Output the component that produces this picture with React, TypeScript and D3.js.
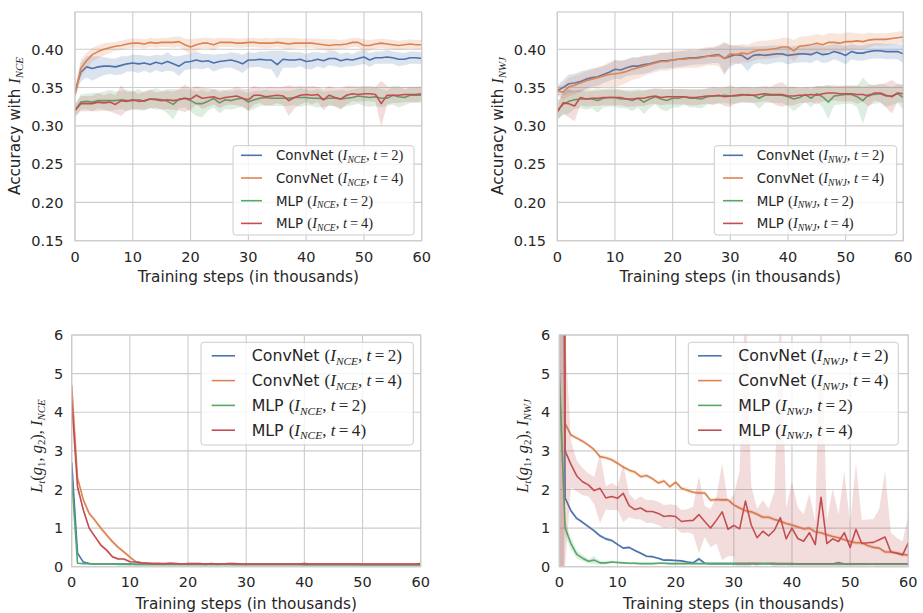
import React from 'react';
import { scaleLinear, line, area, format, range } from 'd3';

// training steps in thousands, one point per 1k steps
const steps = range(0, 61);

const xTicks = [0, 10, 20, 30, 40, 50, 60];
const accTicks = [0.15, 0.2, 0.25, 0.3, 0.35, 0.4];
const lossTicks = [0, 1, 2, 3, 4, 5, 6];

const models = ['ConvNet', 'ConvNet', 'MLP', 'MLP'];
const temps = [2, 4, 2, 4];
const colors = ['#4c72b0', '#dd8452', '#55a868', '#c44e52'];

// ---- accuracy, I_NCE ----
const accNceConv2 = [0.345,0.370,0.377,0.375,0.377,0.378,0.378,0.377,0.379,0.381,
  0.382,0.381,0.382,0.380,0.383,0.381,0.384,0.381,0.378,0.383,
  0.384,0.386,0.384,0.385,0.382,0.384,0.385,0.386,0.384,0.381,
  0.386,0.386,0.387,0.386,0.386,0.380,0.387,0.386,0.386,0.387,
  0.384,0.385,0.387,0.385,0.388,0.388,0.385,0.387,0.386,0.388,
  0.390,0.386,0.389,0.389,0.390,0.389,0.387,0.387,0.389,0.389,0.388];
const accNceConv4 = [0.340,0.375,0.385,0.393,0.397,0.400,0.402,0.404,0.405,0.407,
  0.408,0.408,0.407,0.409,0.408,0.409,0.409,0.409,0.410,0.406,
  0.403,0.406,0.408,0.408,0.406,0.409,0.409,0.409,0.408,0.408,
  0.409,0.409,0.408,0.408,0.408,0.409,0.408,0.407,0.408,0.408,
  0.408,0.408,0.407,0.406,0.405,0.406,0.406,0.407,0.409,0.409,
  0.405,0.405,0.407,0.408,0.407,0.406,0.405,0.406,0.407,0.406,0.406];
const accNceMlp2 = [0.320,0.331,0.332,0.331,0.333,0.333,0.333,0.333,0.334,0.333,
  0.333,0.334,0.332,0.335,0.335,0.334,0.332,0.328,0.335,0.336,
  0.333,0.329,0.329,0.332,0.336,0.330,0.334,0.333,0.335,0.336,
  0.331,0.334,0.336,0.337,0.336,0.336,0.336,0.336,0.337,0.337,
  0.337,0.336,0.336,0.335,0.336,0.336,0.335,0.336,0.337,0.339,
  0.338,0.337,0.338,0.336,0.336,0.340,0.338,0.337,0.340,0.340,0.340];
const accNceMlp4 = [0.320,0.329,0.329,0.329,0.331,0.330,0.331,0.328,0.333,0.332,
  0.334,0.332,0.333,0.335,0.334,0.333,0.334,0.333,0.334,0.336,
  0.335,0.340,0.336,0.337,0.338,0.335,0.337,0.338,0.339,0.336,
  0.334,0.340,0.340,0.338,0.339,0.340,0.339,0.333,0.337,0.340,
  0.341,0.340,0.341,0.334,0.340,0.337,0.335,0.340,0.342,0.341,
  0.342,0.342,0.341,0.329,0.340,0.340,0.340,0.341,0.341,0.341,0.342];
const sdNceConv2 = [0.006,0.012,0.014,0.016,0.014,0.012,0.010,0.011,0.012,0.010,
  0.011,0.012,0.010,0.011,0.010,0.011,0.012,0.010,0.013,0.010,
  0.010,0.011,0.010,0.009,0.011,0.010,0.009,0.010,0.011,0.012,
  0.010,0.009,0.010,0.011,0.012,0.018,0.011,0.010,0.010,0.009,
  0.010,0.011,0.009,0.010,0.009,0.010,0.009,0.009,0.008,0.009,
  0.009,0.009,0.008,0.008,0.009,0.008,0.009,0.008,0.008,0.008,0.008];
const sdNceConv4 = [0.006,0.012,0.010,0.009,0.008,0.008,0.007,0.006,0.006,0.006,
  0.006,0.006,0.006,0.006,0.006,0.006,0.006,0.007,0.007,0.008,
  0.010,0.008,0.007,0.007,0.008,0.006,0.006,0.006,0.006,0.006,
  0.006,0.006,0.006,0.007,0.006,0.006,0.007,0.008,0.007,0.006,
  0.006,0.006,0.007,0.007,0.008,0.007,0.006,0.006,0.006,0.006,
  0.008,0.007,0.006,0.006,0.006,0.006,0.006,0.006,0.006,0.006,0.006];
const sdNceMlp2 = [0.008,0.010,0.010,0.012,0.010,0.012,0.014,0.012,0.012,0.014,
  0.012,0.014,0.012,0.012,0.014,0.012,0.016,0.020,0.012,0.012,
  0.014,0.016,0.018,0.012,0.012,0.014,0.012,0.012,0.012,0.010,
  0.012,0.012,0.010,0.010,0.010,0.010,0.010,0.010,0.010,0.012,
  0.010,0.010,0.012,0.010,0.010,0.010,0.012,0.010,0.010,0.010,
  0.012,0.012,0.012,0.012,0.010,0.012,0.014,0.010,0.010,0.010,0.010];
const sdNceMlp4 = [0.008,0.010,0.010,0.010,0.012,0.010,0.012,0.012,0.020,0.012,
  0.012,0.010,0.012,0.012,0.010,0.012,0.012,0.012,0.014,0.018,
  0.014,0.012,0.014,0.012,0.010,0.012,0.010,0.010,0.012,0.012,
  0.014,0.012,0.010,0.012,0.012,0.010,0.012,0.020,0.014,0.012,
  0.010,0.012,0.010,0.014,0.012,0.012,0.014,0.012,0.010,0.010,
  0.010,0.010,0.010,0.030,0.012,0.010,0.010,0.010,0.010,0.010,0.010];

// ---- accuracy, I_NWJ ----
const accNwjConv2 = [0.346,0.350,0.355,0.356,0.358,0.361,0.363,0.364,0.367,0.370,
  0.374,0.373,0.376,0.378,0.378,0.380,0.381,0.383,0.385,0.385,
  0.386,0.387,0.388,0.389,0.389,0.390,0.391,0.392,0.393,0.388,
  0.391,0.393,0.392,0.387,0.392,0.393,0.392,0.393,0.394,0.394,
  0.392,0.393,0.394,0.394,0.393,0.396,0.393,0.394,0.397,0.395,
  0.392,0.397,0.395,0.395,0.397,0.398,0.398,0.397,0.397,0.397,0.394];
const accNwjConv4 = [0.346,0.344,0.351,0.353,0.356,0.359,0.361,0.363,0.365,0.367,
  0.368,0.369,0.371,0.374,0.376,0.378,0.380,0.382,0.384,0.384,
  0.386,0.387,0.387,0.388,0.388,0.389,0.391,0.391,0.392,0.388,
  0.394,0.393,0.395,0.394,0.397,0.399,0.399,0.400,0.401,0.403,
  0.403,0.398,0.404,0.405,0.406,0.408,0.406,0.409,0.409,0.408,
  0.410,0.410,0.411,0.410,0.412,0.413,0.413,0.413,0.414,0.415,0.416];
const accNwjMlp2 = [0.320,0.328,0.332,0.334,0.335,0.335,0.335,0.333,0.336,0.337,
  0.337,0.335,0.335,0.333,0.336,0.331,0.335,0.338,0.335,0.333,
  0.336,0.336,0.338,0.336,0.336,0.335,0.338,0.339,0.339,0.340,
  0.339,0.339,0.340,0.341,0.340,0.336,0.340,0.340,0.340,0.340,
  0.338,0.335,0.337,0.341,0.336,0.342,0.338,0.331,0.339,0.340,
  0.341,0.341,0.338,0.333,0.341,0.341,0.342,0.339,0.339,0.342,0.337];
const accNwjMlp4 = [0.318,0.330,0.329,0.326,0.337,0.335,0.336,0.336,0.337,0.337,
  0.337,0.337,0.335,0.335,0.336,0.336,0.338,0.339,0.337,0.338,
  0.338,0.338,0.338,0.337,0.337,0.338,0.339,0.339,0.340,0.338,
  0.339,0.340,0.341,0.340,0.340,0.341,0.342,0.341,0.341,0.341,
  0.339,0.339,0.340,0.340,0.341,0.340,0.342,0.343,0.343,0.342,
  0.342,0.342,0.341,0.341,0.339,0.343,0.343,0.340,0.338,0.343,0.342];
const sdNwjConv2 = [0.006,0.010,0.012,0.012,0.013,0.012,0.012,0.012,0.011,0.011,
  0.012,0.012,0.011,0.012,0.011,0.012,0.011,0.010,0.010,0.010,
  0.010,0.010,0.010,0.010,0.009,0.010,0.010,0.010,0.011,0.020,
  0.014,0.012,0.012,0.016,0.012,0.011,0.012,0.012,0.011,0.011,
  0.012,0.011,0.011,0.011,0.011,0.010,0.011,0.011,0.010,0.011,
  0.012,0.010,0.010,0.010,0.010,0.010,0.010,0.010,0.010,0.010,0.012];
const sdNwjConv4 = [0.006,0.010,0.012,0.012,0.012,0.012,0.012,0.014,0.014,0.016,
  0.018,0.016,0.015,0.014,0.014,0.013,0.012,0.012,0.012,0.012,
  0.012,0.012,0.012,0.012,0.012,0.012,0.012,0.012,0.014,0.022,
  0.012,0.012,0.012,0.012,0.012,0.012,0.012,0.012,0.012,0.012,
  0.012,0.014,0.012,0.012,0.012,0.012,0.012,0.012,0.012,0.012,
  0.012,0.012,0.010,0.010,0.010,0.008,0.008,0.008,0.008,0.008,0.008];
const sdNwjMlp2 = [0.012,0.014,0.016,0.012,0.012,0.014,0.012,0.016,0.012,0.012,
  0.012,0.012,0.012,0.014,0.012,0.016,0.012,0.010,0.014,0.014,
  0.012,0.012,0.010,0.012,0.012,0.012,0.010,0.010,0.010,0.010,
  0.010,0.010,0.010,0.010,0.010,0.014,0.010,0.010,0.010,0.010,
  0.012,0.016,0.012,0.010,0.012,0.010,0.014,0.022,0.012,0.012,
  0.012,0.012,0.014,0.030,0.014,0.012,0.012,0.014,0.012,0.012,0.016];
const sdNwjMlp4 = [0.010,0.014,0.018,0.020,0.010,0.010,0.010,0.010,0.010,0.010,
  0.010,0.010,0.010,0.010,0.010,0.010,0.010,0.010,0.010,0.010,
  0.010,0.010,0.010,0.010,0.010,0.010,0.010,0.012,0.010,0.012,
  0.014,0.010,0.010,0.010,0.010,0.010,0.010,0.010,0.014,0.016,
  0.012,0.012,0.010,0.010,0.010,0.012,0.010,0.010,0.010,0.010,
  0.010,0.010,0.012,0.010,0.014,0.010,0.012,0.016,0.022,0.012,0.012];

// ---- loss L_t, I_NCE ----
const lossNceConv2 = [2.70,0.35,0.12,0.08,0.07,0.07,0.07,0.07,0.07,0.07,
  0.07,0.06,0.06,0.06,0.06,0.06,0.06,0.06,0.06,0.06,
  0.06,0.06,0.06,0.06,0.06,0.06,0.06,0.06,0.06,0.06,
  0.06,0.06,0.06,0.06,0.06,0.06,0.06,0.06,0.06,0.06,
  0.06,0.06,0.06,0.06,0.06,0.06,0.06,0.06,0.06,0.06,
  0.05,0.05,0.05,0.05,0.05,0.05,0.05,0.05,0.05,0.05,0.05];
const lossNceConv4 = [4.70,2.30,1.73,1.38,1.20,1.00,0.82,0.65,0.50,0.38,
  0.25,0.13,0.10,0.09,0.08,0.08,0.07,0.08,0.07,0.07,
  0.07,0.07,0.07,0.06,0.07,0.06,0.07,0.07,0.06,0.06,
  0.06,0.06,0.06,0.06,0.06,0.06,0.06,0.06,0.06,0.06,
  0.06,0.06,0.06,0.06,0.06,0.06,0.06,0.06,0.06,0.06,
  0.06,0.06,0.06,0.06,0.06,0.06,0.06,0.06,0.06,0.06,0.06];
const lossNceMlp2 = [2.30,0.09,0.08,0.08,0.07,0.07,0.07,0.07,0.06,0.06,
  0.06,0.06,0.06,0.06,0.06,0.06,0.06,0.06,0.06,0.06,
  0.06,0.06,0.06,0.06,0.06,0.06,0.06,0.06,0.06,0.06,
  0.06,0.06,0.06,0.06,0.06,0.06,0.06,0.06,0.06,0.06,
  0.05,0.05,0.05,0.05,0.05,0.05,0.05,0.05,0.05,0.05,
  0.05,0.05,0.05,0.05,0.05,0.05,0.05,0.05,0.05,0.05,0.05];
const lossNceMlp4 = [4.30,2.07,1.47,1.00,0.78,0.56,0.43,0.26,0.20,0.20,
  0.13,0.12,0.10,0.09,0.08,0.08,0.08,0.09,0.08,0.07,
  0.08,0.08,0.08,0.07,0.08,0.07,0.07,0.08,0.08,0.07,
  0.07,0.07,0.07,0.07,0.07,0.07,0.07,0.07,0.07,0.07,
  0.08,0.07,0.07,0.07,0.07,0.07,0.07,0.07,0.07,0.07,
  0.07,0.07,0.07,0.07,0.07,0.07,0.07,0.07,0.07,0.07,0.08];
const sdLossNceConv2 = [0.30,0.05,0.02,0.01,0.01,0.01,0.01,0.01,0.01,0.01,
  0.01,0.01,0.01,0.01,0.01,0.01,0.01,0.01,0.01,0.01,
  0.01,0.01,0.01,0.01,0.01,0.01,0.01,0.01,0.01,0.01,
  0.01,0.01,0.01,0.01,0.01,0.01,0.01,0.01,0.01,0.01,
  0.01,0.01,0.01,0.01,0.01,0.01,0.01,0.01,0.01,0.01,
  0.01,0.01,0.01,0.01,0.01,0.01,0.01,0.01,0.01,0.01,0.01];
const sdLossNceConv4 = [0.20,0.08,0.06,0.06,0.06,0.06,0.06,0.05,0.05,0.05,
  0.04,0.03,0.02,0.02,0.02,0.02,0.02,0.02,0.02,0.02,
  0.02,0.02,0.02,0.02,0.02,0.02,0.02,0.02,0.02,0.02,
  0.02,0.02,0.02,0.02,0.02,0.02,0.02,0.02,0.02,0.02,
  0.02,0.02,0.02,0.02,0.02,0.02,0.02,0.02,0.02,0.02,
  0.02,0.02,0.02,0.02,0.02,0.02,0.02,0.02,0.02,0.02,0.02];
const sdLossNceMlp2 = [0.30,0.02,0.01,0.01,0.01,0.01,0.01,0.01,0.01,0.01,
  0.01,0.01,0.01,0.01,0.01,0.01,0.01,0.01,0.01,0.01,
  0.01,0.01,0.01,0.01,0.01,0.01,0.01,0.01,0.01,0.01,
  0.01,0.01,0.01,0.01,0.01,0.01,0.01,0.01,0.01,0.01,
  0.01,0.01,0.01,0.01,0.01,0.01,0.01,0.01,0.01,0.01,
  0.01,0.01,0.01,0.01,0.01,0.01,0.01,0.01,0.01,0.01,0.01];
const sdLossNceMlp4 = [0.20,0.10,0.06,0.05,0.04,0.04,0.04,0.03,0.03,0.03,
  0.02,0.02,0.02,0.02,0.02,0.02,0.02,0.03,0.02,0.02,
  0.02,0.03,0.02,0.02,0.02,0.02,0.02,0.03,0.02,0.02,
  0.02,0.02,0.02,0.02,0.02,0.02,0.02,0.02,0.02,0.02,
  0.03,0.02,0.02,0.02,0.02,0.02,0.02,0.02,0.02,0.02,
  0.02,0.02,0.02,0.02,0.02,0.02,0.02,0.02,0.02,0.02,0.03];

// ---- loss L_t, I_NWJ ----
const lossNwjConv2 = [30,1.78,1.45,1.25,1.15,1.04,0.93,0.80,0.72,0.68,
  0.58,0.48,0.50,0.42,0.35,0.27,0.26,0.22,0.17,0.17,
  0.16,0.15,0.12,0.10,0.20,0.09,0.08,0.08,0.08,0.08,
  0.08,0.08,0.08,0.08,0.08,0.08,0.08,0.08,0.07,0.07,
  0.07,0.07,0.07,0.07,0.07,0.07,0.07,0.07,0.10,0.07,
  0.07,0.07,0.07,0.07,0.07,0.07,0.07,0.07,0.07,0.07,0.07];
const lossNwjConv4 = [50,3.71,3.41,3.33,3.25,3.15,3.03,2.85,2.82,2.77,
  2.68,2.58,2.50,2.45,2.33,2.36,2.28,2.17,2.22,2.07,
  2.19,2.03,1.98,1.93,1.91,1.91,1.72,1.74,1.73,1.73,
  1.60,1.52,1.45,1.42,1.36,1.28,1.28,1.22,1.18,1.12,
  1.08,1.03,0.98,1.00,0.90,0.88,0.83,0.78,0.75,0.70,
  0.65,0.62,0.62,0.55,0.50,0.48,0.38,0.38,0.36,0.32,0.30];
const lossNwjMlp2 = [5.00,1.00,0.60,0.32,0.22,0.14,0.17,0.10,0.10,0.12,
  0.11,0.10,0.09,0.09,0.08,0.08,0.08,0.09,0.09,0.08,
  0.08,0.08,0.08,0.08,0.08,0.08,0.08,0.08,0.08,0.08,
  0.08,0.08,0.08,0.08,0.08,0.08,0.08,0.08,0.08,0.08,
  0.08,0.07,0.07,0.07,0.07,0.07,0.07,0.07,0.07,0.07,
  0.07,0.07,0.07,0.07,0.07,0.07,0.07,0.07,0.07,0.07,0.07];
const lossNwjMlp4 = [80,3.00,2.65,2.35,2.20,2.12,1.97,2.03,1.78,1.82,
  1.77,1.90,1.58,1.48,1.52,1.43,1.43,1.38,1.30,1.32,
  1.30,1.17,1.19,1.20,1.35,1.17,1.00,1.20,1.42,0.97,
  1.07,0.98,1.70,1.08,0.75,0.92,0.80,0.95,1.27,0.72,
  1.00,0.73,0.66,0.88,0.57,1.80,0.60,0.72,0.65,0.88,
  0.50,0.97,0.60,0.62,0.63,0.70,0.77,0.38,0.35,0.30,0.62];
const sdLossNwjConv2 = [40,0.05,0.05,0.04,0.04,0.04,0.04,0.04,0.04,0.04,
  0.03,0.03,0.03,0.03,0.03,0.03,0.03,0.03,0.03,0.03,
  0.03,0.03,0.03,0.03,0.05,0.02,0.02,0.02,0.02,0.02,
  0.02,0.02,0.02,0.02,0.02,0.02,0.02,0.02,0.02,0.02,
  0.02,0.02,0.02,0.02,0.02,0.02,0.02,0.02,0.04,0.02,
  0.02,0.02,0.02,0.02,0.02,0.02,0.02,0.02,0.02,0.02,0.02];
const sdLossNwjConv4 = [60,0.06,0.05,0.05,0.05,0.05,0.05,0.05,0.05,0.05,
  0.05,0.05,0.05,0.05,0.05,0.05,0.05,0.05,0.05,0.05,
  0.05,0.05,0.05,0.05,0.05,0.05,0.05,0.05,0.05,0.05,
  0.05,0.05,0.05,0.05,0.05,0.05,0.05,0.05,0.05,0.05,
  0.05,0.05,0.05,0.05,0.05,0.05,0.05,0.05,0.05,0.05,
  0.05,0.05,0.05,0.05,0.05,0.05,0.05,0.05,0.05,0.05,0.05];
const sdLossNwjMlp2 = [1.00,0.20,0.15,0.10,0.08,0.06,0.10,0.05,0.04,0.04,
  0.03,0.03,0.03,0.03,0.03,0.03,0.03,0.03,0.03,0.03,
  0.03,0.03,0.03,0.03,0.03,0.03,0.03,0.03,0.03,0.03,
  0.03,0.03,0.03,0.03,0.03,0.03,0.03,0.03,0.03,0.03,
  0.03,0.03,0.03,0.03,0.03,0.03,0.03,0.03,0.05,0.03,
  0.03,0.03,0.03,0.03,0.03,0.03,0.03,0.03,0.03,0.03,0.03];
const sdLossNwjMlp4 = [80,3.00,0.60,0.40,0.35,0.30,0.35,0.90,0.30,0.35,
  0.30,0.75,0.30,0.25,0.30,0.30,0.30,0.30,0.30,0.30,
  0.30,0.30,0.30,0.35,1.00,0.40,0.50,0.60,1.25,0.70,
  0.80,1.50,5.50,1.00,0.75,0.80,0.70,1.00,5.70,0.80,
  1.20,0.80,0.70,1.00,0.60,5.20,0.60,1.30,0.70,1.60,
  0.60,1.70,0.60,0.60,0.60,0.80,1.70,0.50,0.40,0.35,0.70];

const SANS = "'DejaVu Sans', 'Noto Sans', sans-serif";
const SERIF = "'Liberation Serif', 'DejaVu Serif', serif";
const TEXT = '#262626';
const GRID = '#cccccc';

type Series = { mean: number[]; sd: number[] };
// a piece of a label: s = text, m = math (serif), i = italic, sub = subscript
type Tok = { s: string; m?: boolean; i?: boolean; sub?: boolean };

const panels = [
  {
    key: 'acc-nce', est: 'NCE', kind: 'acc',
    box: { left: 75, right: 421.7, top: 12, bottom: 240.7 },
    yDomain: [0.15, 0.4487], yTicks: accTicks, yFmt: format('.2f'), tickPad: 11.5, xTickY: 262, xLabelY: 281.5,
    yLabel: { x: 15, y: 126 },
    series: [
      { mean: accNceConv2, sd: sdNceConv2 }, { mean: accNceConv4, sd: sdNceConv4 },
      { mean: accNceMlp2, sd: sdNceMlp2 }, { mean: accNceMlp4, sd: sdNceMlp4 },
    ],
    legend: { x: 233, y: 145.7, w: 181, h: 89.3, row0: 155.3, step: 22.7, h1: 241, h2: 262, tx: 276, fs: 13.4 },
  },
  {
    key: 'acc-nwj', est: 'NWJ', kind: 'acc',
    box: { left: 557.3, right: 903.3, top: 12, bottom: 240.7 },
    yDomain: [0.15, 0.4487], yTicks: accTicks, yFmt: format('.2f'), tickPad: 11.3, xTickY: 262, xLabelY: 281.5,
    yLabel: { x: 498, y: 126 },
    series: [
      { mean: accNwjConv2, sd: sdNwjConv2 }, { mean: accNwjConv4, sd: sdNwjConv4 },
      { mean: accNwjMlp2, sd: sdNwjMlp2 }, { mean: accNwjMlp4, sd: sdNwjMlp4 },
    ],
    legend: { x: 714.3, y: 145.7, w: 182.4, h: 89.3, row0: 155.3, step: 22.7, h1: 723, h2: 743, tx: 756.7, fs: 13.4 },
  },
  {
    key: 'loss-nce', est: 'NCE', kind: 'loss',
    box: { left: 71.7, right: 420.7, top: 335, bottom: 566.7 },
    yDomain: [0, 6], yTicks: lossTicks, yFmt: format('d'), tickPad: 8.5, xTickY: 587, xLabelY: 609,
    yLabel: { x: 37, y: 446 },
    series: [
      { mean: lossNceConv2, sd: sdLossNceConv2 }, { mean: lossNceConv4, sd: sdLossNceConv4 },
      { mean: lossNceMlp2, sd: sdLossNceMlp2 }, { mean: lossNceMlp4, sd: sdLossNceMlp4 },
    ],
    legend: { x: 201, y: 342.3, w: 212.3, h: 102.7, row0: 355.8, step: 24.8, h1: 211.7, h2: 235, tx: 251.7, fs: 15.8 },
  },
  {
    key: 'loss-nwj', est: 'NWJ', kind: 'loss',
    box: { left: 559.3, right: 908.3, top: 335, bottom: 566.7 },
    yDomain: [0, 6], yTicks: lossTicks, yFmt: format('d'), tickPad: 9, xTickY: 587, xLabelY: 609,
    yLabel: { x: 523, y: 446 },
    series: [
      { mean: lossNwjConv2, sd: sdLossNwjConv2 }, { mean: lossNwjConv4, sd: sdLossNwjConv4 },
      { mean: lossNwjMlp2, sd: sdLossNwjMlp2 }, { mean: lossNwjMlp4, sd: sdLossNwjMlp4 },
    ],
    legend: { x: 688.3, y: 342.3, w: 210, h: 102.7, row0: 355.8, step: 24.8, h1: 698, h2: 721.7, tx: 738.3, fs: 15.8 },
  },
];

// turn tokens into tspans, moving the baseline for subscripts
function renderTokens(toks: Tok[], fs: number) {
  const shift = fs * 0.22;
  let down = false;
  return toks.map((t, k) => {
    let dy = 0;
    if (t.sub && !down) { dy = shift; down = true; }
    else if (!t.sub && down) { dy = -shift; down = false; }
    const size = t.sub ? fs * 0.72 : t.m ? fs * 1.08 : fs;
    return (
      <tspan key={k} fontFamily={t.m ? SERIF : SANS} fontStyle={t.i ? 'italic' : 'normal'}
        fontSize={size} dy={dy || undefined}>{t.s}</tspan>
    );
  });
}

const estToks = (est: string): Tok[] => [{ s: 'I', m: true, i: true }, { s: est, m: true, i: true, sub: true }];

function legendToks(model: string, est: string, t: number): Tok[] {
  return [
    { s: model + ' ' }, { s: '(', m: true }, ...estToks(est), { s: ', ', m: true },
    { s: 't', m: true, i: true }, { s: '\u2009=\u2009' + t + ')', m: true },
  ];
}

function yLabelToks(kind: string, est: string): Tok[] {
  if (kind === 'acc') return [{ s: 'Accuracy with ' }, ...estToks(est)];
  return [
    { s: 'L', m: true, i: true }, { s: 't', m: true, i: true, sub: true }, { s: '(', m: true },
    { s: 'g', m: true, i: true }, { s: '1', m: true, sub: true }, { s: ', ', m: true },
    { s: 'g', m: true, i: true }, { s: '2', m: true, sub: true }, { s: '), ', m: true }, ...estToks(est),
  ];
}

function Panel({ p }: { p: any }) {
  const { left, right, top, bottom } = p.box;
  const x = scaleLinear().domain([0, 60]).range([left, right]);
  const y = scaleLinear().domain(p.yDomain).range([bottom, top]);
  const clipId = 'clip-' + p.key;

  const lineGen = line<number>().x((_, i) => x(steps[i])).y(d => y(d));
  const bandGen = (s: Series) =>
    area<number>()
      .x((_, i) => x(steps[i]))
      .y0((d, i) => y(d - s.sd[i]))
      .y1((d, i) => y(d + s.sd[i]))(s.mean);

  const lg = p.legend;

  return (
    <g>
      <defs>
        <clipPath id={clipId}>
          <rect x={left} y={top} width={right - left} height={bottom - top} />
        </clipPath>
      </defs>
      {/* grid */}
      {xTicks.map(t => (
        <line key={'gx' + t} x1={x(t)} x2={x(t)} y1={top} y2={bottom} stroke={GRID} strokeWidth={1.1} />
      ))}
      {p.yTicks.map((t: number) => (
        <line key={'gy' + t} x1={left} x2={right} y1={y(t)} y2={y(t)} stroke={GRID} strokeWidth={1.1} />
      ))}
      {/* bands and lines */}
      <g clipPath={`url(#${clipId})`}>
        {p.series.map((s: Series, i: number) => (
          <g key={'s' + i}>
            <path d={lineGen(s.mean) || ''} fill="none" stroke={colors[i]} strokeWidth={1.6} strokeLinejoin="round" />
            <path d={bandGen(s) || ''} fill={colors[i]} fillOpacity={0.2} stroke="none" />
          </g>
        ))}
      </g>
      {/* spines */}
      <rect x={left} y={top} width={right - left} height={bottom - top} fill="none" stroke={GRID} strokeWidth={1.2} />
      {/* tick labels */}
      {xTicks.map(t => (
        <text key={'tx' + t} x={x(t)} y={p.xTickY} textAnchor="middle" fontFamily={SANS} fontSize={14.5} fill={TEXT}>{t}</text>
      ))}
      {p.yTicks.map((t: number) => (
        <text key={'ty' + t} x={left - p.tickPad} y={y(t)} dy="0.36em" textAnchor="end" fontFamily={SANS} fontSize={14.5} fill={TEXT}>{p.yFmt(t)}</text>
      ))}
      <text x={(left + right) / 2} y={p.xLabelY} textAnchor="middle" fontFamily={SANS} fontSize={15.3} fill={TEXT}>
        Training steps (in thousands)
      </text>
      <text transform={`translate(${p.yLabel.x + 5},${p.yLabel.y}) rotate(-90)`} textAnchor="middle" fontFamily={SANS} fontSize={15.2} fill={TEXT}>
        {renderTokens(yLabelToks(p.kind, p.est), 15.2)}
      </text>
      {/* legend */}
      <rect x={lg.x} y={lg.y} width={lg.w} height={lg.h} rx={3} fill="#ffffff" fillOpacity={0.8} stroke={GRID} strokeWidth={1} />
      {models.map((m, i) => (
        <g key={'lg' + i}>
          <line x1={lg.h1} x2={lg.h2} y1={lg.row0 + i * lg.step} y2={lg.row0 + i * lg.step} stroke={colors[i]} strokeWidth={1.6} />
          <text x={lg.tx} y={lg.row0 + i * lg.step + lg.fs * 0.36} fontFamily={SANS} fontSize={lg.fs} fill={TEXT}>
            {renderTokens(legendToks(m, p.est, temps[i]), lg.fs)}
          </text>
        </g>
      ))}
    </g>
  );
}

export default function App() {
  return (
    <svg width={923} height={613} style={{ position: 'absolute', left: 0, top: 0, background: '#ffffff' }}>
      {panels.map(p => <Panel key={p.key} p={p} />)}
    </svg>
  );
}
